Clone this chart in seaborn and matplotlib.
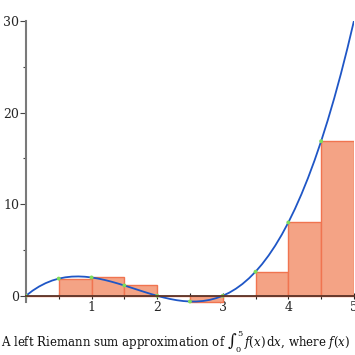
import numpy as np
import seaborn as sns
import matplotlib.pyplot as plt
from matplotlib.ticker import MultipleLocator

# ── data ──────────────────────────────────────────────────
curve_x = [round(0.1 * i, 1) for i in range(51)]
curve_y = [0.0, 0.551, 1.008, 1.377, 1.664, 1.875, 2.016, 2.093, 2.112, 2.079,
           2.0, 1.881, 1.728, 1.547, 1.344, 1.125, 0.896, 0.663, 0.432, 0.209,
           0.0, -0.189, -0.352, -0.483, -0.576, -0.625, -0.624, -0.567, -0.448, -0.261,
           0.0, 0.341, 0.768, 1.287, 1.904, 2.625, 3.456, 4.403, 5.472, 6.669,
           8.0, 9.471, 11.088, 12.857, 14.784, 16.875, 19.136, 21.573, 24.192, 26.999,
           30.0]

# left endpoints and heights of the rectangles (width 0.5)
left_x = [0.0, 0.5, 1.0, 1.5, 2.0, 2.5, 3.0, 3.5, 4.0, 4.5]
left_h = [0.0, 1.875, 2.0, 1.125, 0.0, -0.625, 0.0, 2.625, 8.0, 16.875]
bar_w = 0.5

caption = r"A left Riemann sum approximation of $\int_0^5 \, f(x)\,\mathrm{d}x$, where $f(x)$"

# ── style ─────────────────────────────────────────────────
sns.set_style("white")
plt.rcParams["font.family"] = ["DejaVu Serif"]
plt.rcParams["mathtext.fontset"] = "dejavuserif"

fig = plt.figure(figsize=(3.55, 3.55), dpi=100)
ax = fig.add_axes([0.073, 0.141, 0.924, 0.80])

ax.bar(left_x, left_h, width=bar_w, align="edge", color="#F4A385",
       edgecolor="#F07450", linewidth=1.0, zorder=2)

sns.lineplot(x=curve_x, y=curve_y, ax=ax, color="#1F56C6", linewidth=1.3,
             zorder=3, sort=False)
sns.scatterplot(x=left_x, y=left_h, ax=ax, color="#7EDB5A", s=8,
                edgecolor="none", zorder=4)

ax.set_xlim(0, 5)
ax.set_ylim(-1, 30)

for s in ["top", "right"]:
    ax.spines[s].set_visible(False)
ax.spines["bottom"].set_position(("data", 0))
ax.spines["bottom"].set_color("#5B3328")
ax.spines["bottom"].set_linewidth(1.3)
ax.spines["bottom"].set_zorder(5)
ax.spines["left"].set_color("#7A7A7A")
ax.spines["left"].set_linewidth(1.5)
ax.spines["left"].set_bounds(-0.7, 30)

ax.xaxis.set_minor_locator(MultipleLocator(0.5))
ax.set_xticks([1, 2, 3, 4, 5])
ax.set_xticklabels(["1", "2", "3", "4", "5"])
ax.yaxis.set_major_locator(MultipleLocator(10))
ax.yaxis.set_minor_locator(MultipleLocator(5))

ax.tick_params(axis="x", which="major", direction="inout", length=5, width=0.8,
               color="#222222", labelsize=9, pad=1)
ax.tick_params(axis="x", which="minor", direction="inout", length=4, width=0.8,
               color="#222222")
ax.tick_params(axis="y", which="major", direction="out", length=4, width=0.8,
               color="#444444", labelsize=9, pad=1)
ax.tick_params(axis="y", which="minor", direction="out", length=2, width=0.8,
               color="#444444")
ax.tick_params(bottom=True, left=True, which="both")

ax.set_xlabel("")
ax.set_ylabel("")

fig.text(0.004, 0.042, caption, fontsize=8.5, ha="left", va="center",
         color="#111111")

fig.savefig("out.png", dpi=100)
